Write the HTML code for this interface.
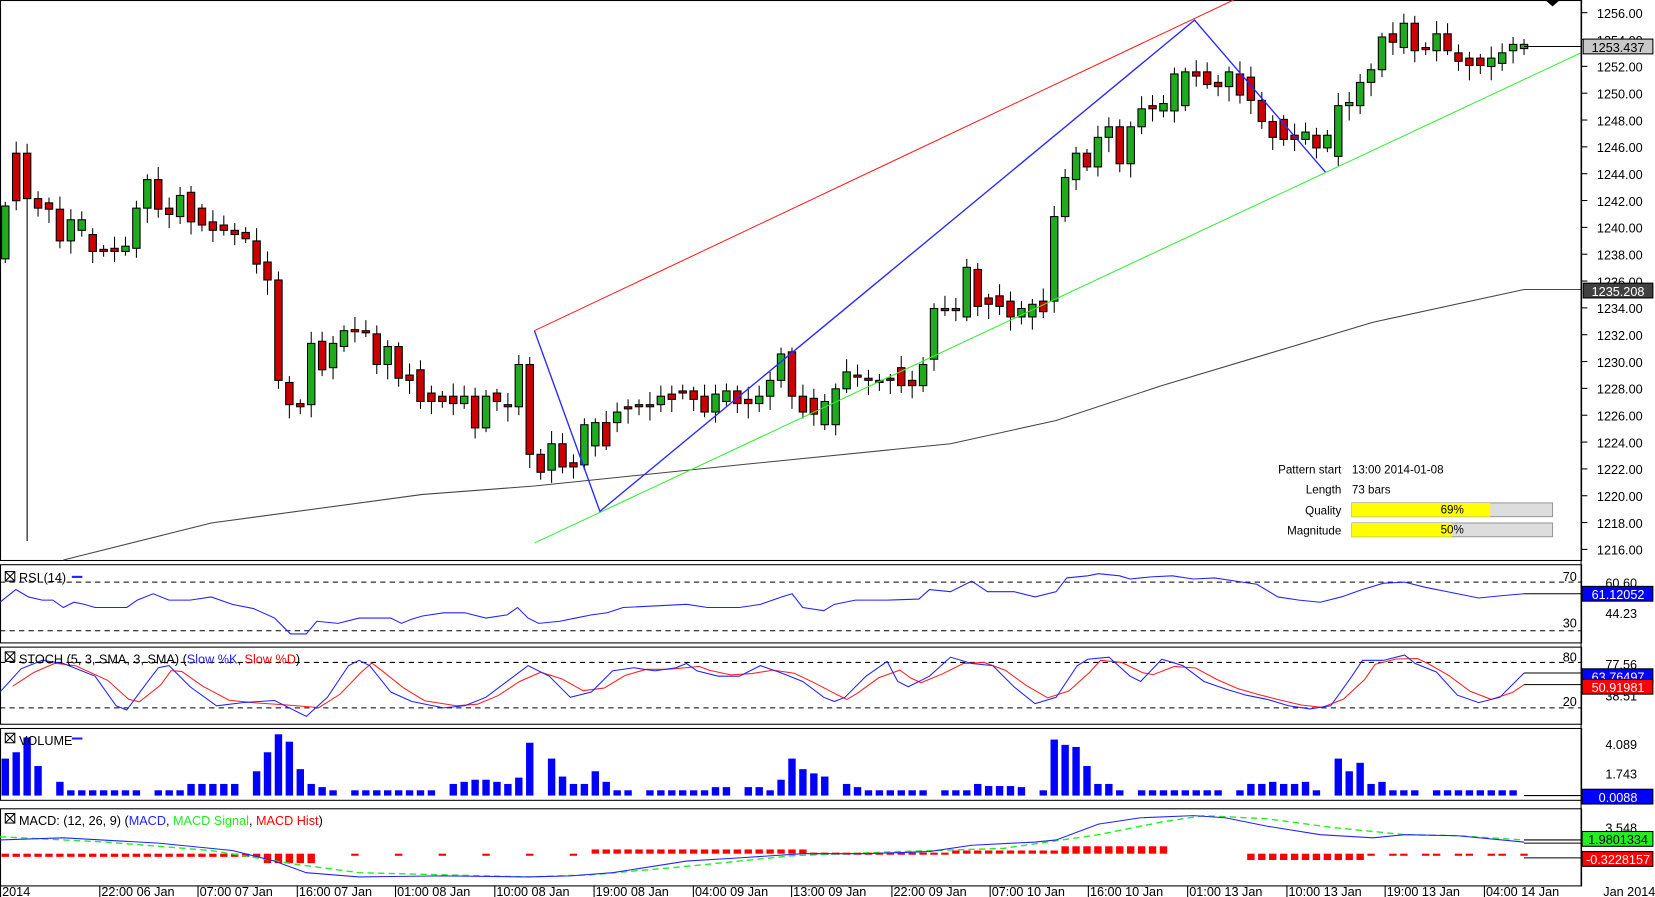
<!DOCTYPE html><html><head><style>body{margin:0;background:#fff}svg{display:block;font-family:"Liberation Sans",sans-serif}</style></head><body>
<svg id="s" width="1655" height="897" viewBox="0 0 1567 849" preserveAspectRatio="none" xmlns="http://www.w3.org/2000/svg"></svg>
<script>
const s=document.getElementById('s');let h='';
const P=(pts)=>pts.map(p=>p.join(',')).join(' ');
const pl=(pts,c,w,d)=>h+=`<polyline points="${P(pts)}" fill="none" stroke="${c}" stroke-width="${w||1}" ${d?'stroke-dasharray="'+d+'"':''}/>`;
const ln=(x1,y1,x2,y2,c,w,d)=>h+=`<line x1="${x1}" y1="${y1}" x2="${x2}" y2="${y2}" stroke="${c}" stroke-width="${w||1}" ${d?'stroke-dasharray="'+d+'"':''}/>`;
const tx=(x,y,t,c,a,sz)=>h+=`<text x="${x}" y="${y}" fill="${c||'#000'}" font-size="${sz||12}" text-anchor="${a||'start'}">${t}</text>`;
const rc=(x,y,w,hh,f,st)=>h+=`<rect x="${x}" y="${y}" width="${w}" height="${hh}" fill="${f}" ${st?'stroke="'+st+'"':''}/>`;
[[0,0,530],[0,534,608],[0,612,685],[0,689,757],[0,765,838]].forEach(p=>{rc(0.5,p[1]+0.5,1497,p[2]-p[1],'none','#000')});
for(let v=1256,i=0;v>=1216;v-=2,i++){let y=12+i*25.4;ln(1497,y,1503,y,'#000');tx(1512,y+5,v.toFixed(2));}
pl([[60,530],[200,495],[400,468],[506,460],[700,440],[900,420],[1000,398],[1100,365],[1200,335],[1300,305],[1443,274],[1497,274]],'#444',1);
const C=[[245,195],[145,190],[145,188],[188,197],[192,198],[198,228],[228,208],[218,208],[222,238],[236,238],[235,238],[238,233],[235,197],[197,170],[170,198],[197,203],[205,185],[182,210],[197,213],[210,218],[213,218],[218,222],[220,226],[228,250],[248,265],[265,360],[362,383],[382,385],[383,325],[323,350],[348,325],[328,313],[312,313],[313,314],[316,345],[345,328],[328,358],[355,360],[350,380],[372,380],[375,380],[375,382],[382,375],[375,405],[405,375],[372,380],[383,385],[385,345],[345,430],[430,447],[445,420],[420,442],[438,442],[440,402],[422,400],[400,422],[400,390],[385,386],[383,384],[383,384],[383,375],[373,378],[370,372],[370,378],[375,390],[390,373],[380,370],[370,382],[378,382],[382,375],[375,360],[360,335],[333,375],[375,390],[377,392],[402,380],[402,368],[368,352],[355,356],[358,359],[360,361],[358,359],[348,365],[360,365],[365,345],[340,292],[292,293],[292,293],[300,253],[255,290],[282,288],[280,290],[285,300],[300,292],[300,288],[285,295],[285,205],[205,168],[170,145],[145,158],[158,130],[130,120],[120,155],[155,120],[120,103],[100,103],[105,98],[105,70],[100,68],[68,72],[68,80],[78,82],[82,68],[70,90],[73,95],[95,115],[115,130],[113,132],[128,132],[132,125],[128,140],[140,128],[148,100],[100,97],[100,78],[78,66],[66,35],[32,40],[45,22],[22,48],[45,46],[48,32],[32,48],[50,58],[55,62],[55,62],[63,55],[60,50],[48,42],[46,42]];
const X=i=>5+i*(1438/(C.length-1));
C.forEach((c,i)=>{let x=X(i),t=Math.min(c[0],c[1]),b=Math.max(c[0],c[1]);if(b-t<2)b=t+2;let g=c[1]<c[0];
let wt=t-4-(i*7%9),wb=b+4+(i*5%11);if(i==2)wb=512;ln(x,wt,x,wb,'#000');rc(x-3.5,t,7,b-t,g?'#1faa1f':'#cc0000','#000');});
ln(506,313,1168,0,'#ff2020');ln(506,514,1497,50,'#33ee33');pl([[506,313],[568,484],[1131,19],[1255,163]],'#2a2aff',1.3);
ln(1443,44,1497,44,'#000');
rc(1499,37,66,14,'#c8c8c8','#000');tx(1532,49,'1253.437','#000','middle');
rc(1499,268,66,14,'#404040','#000');tx(1532,280,'1235.208','#fff','middle');
h+=`<path d="M1463 0 L1477 0 L1470 6Z" fill="#000"/>`;
[['Pattern start',444],['Length',463],['Quality',483],['Magnitude',502]].forEach(a=>tx(1270,a[1]+4,a[0],'#000','end',11));
tx(1280,448,'13:00 2014-01-08','#000','start',11);tx(1280,467,'73 bars','#000','start',11);
rc(1280,476,190,13,'#ddd','#999');rc(1280,476,131,13,'#ffff00');tx(1375,486,'69%','#000','middle',11);
rc(1280,495,190,13,'#ddd','#999');rc(1280,495,95,13,'#ffff00');tx(1375,505,'50%','#000','middle',11);
ln(0,551,1497,551,'#000',1,'5,4');ln(0,597,1497,597,'#000',1,'5,4');
const rsi=[[0,570],[15,558],[27,565],[40,568],[50,568],[60,575],[70,570],[80,572],[90,575],[120,575],[130,568],[145,562],[160,568],[180,568],[200,565],[220,572],[240,576],[260,585],[275,600],[290,600],[300,588],[320,590],[340,585],[370,585],[380,590],[390,586],[400,583],[420,580],[440,580],[460,585],[480,582],[490,575],[500,585],[510,590],[530,588],[545,585],[560,582],[575,580],[590,575],[650,572],[670,575],[700,575],[720,572],[740,565],[750,562],[760,575],[780,578],[790,572],[810,568],[840,568],[870,567],[880,558],[900,560],[920,550],[935,560],[960,560],[980,565],[1000,560],[1010,547],[1030,545],[1040,543],[1060,545],[1070,548],[1090,546],[1110,545],[1130,548],[1150,547],[1170,550],[1190,553],[1210,565],[1230,568],[1250,570],[1270,565],[1290,558],[1310,552],[1330,551],[1350,556],[1370,560],[1400,566],[1420,564],[1443,562]];
pl(rsi,'#2222ff');ln(1443,562,1497,562,'#000');
tx(1493,550,'70','#000','end');tx(1493,594,'30','#000','end');tx(1520,585,'44.23');tx(1520,556,'60.60');
rc(1498,555,67,14,'#0000ff','#000');tx(1532,567,'61.12052','#fff','middle');
h+=`<rect x="5" y="541" width="9" height="9" fill="none" stroke="#000"/><path d="M5 541L14 550M14 541L5 550" stroke="#000"/>`;
tx(18,551,'RSI (14)');ln(68,546,78,546,'#22f',2);
ln(0,627,1497,627,'#000',1,'5,4');ln(0,670,1497,670,'#000',1,'5,4');
const K=[[0,655],[20,633],[40,625],[60,628],[90,640],[110,668],[120,672],[140,645],[150,632],[160,630],[180,650],[205,668],[230,665],[260,663],[290,678],[310,660],[330,630],[340,625],[350,630],[370,655],[390,664],[420,670],[440,668],[460,660],[480,645],[500,630],[520,640],[540,660],[560,655],[580,635],[600,632],[620,635],[640,632],[650,628],[660,635],[680,640],[700,640],[720,630],[740,637],[760,645],[780,660],[790,664],[800,660],[820,640],[840,626],[850,645],[860,650],[880,640],[900,622],[920,628],[940,630],[960,650],[980,666],[1000,660],[1020,630],[1030,624],[1050,622],[1070,640],[1080,645],[1100,624],[1120,630],[1140,645],[1160,652],[1180,658],[1200,662],[1220,668],[1240,671],[1260,668],[1280,640],[1290,625],[1310,625],[1330,620],[1340,628],[1360,636],[1380,658],[1400,665],[1420,660],[1443,637]];
const D=K.map((p,i)=>{let a=K[Math.max(0,i-1)][1],b=p[1],c=K[Math.min(K.length-1,i+1)][1];return [Math.min(1443,p[0]+12),(a+b*2+c)/4]});D[D.length-1]=[1443,648];
pl(D,'#ff2020');pl(K,'#2222ff');ln(1443,637,1497,637,'#000');ln(1443,648,1497,648,'#000');
tx(1493,626,'80','#000','end');tx(1493,668,'20','#000','end');tx(1520,663,'38.51');tx(1520,633,'77.56');
rc(1498,633,67,14,'#0000ff','#000');tx(1532,645,'63.76497','#fff','middle');
rc(1498,643,67,14,'#ff0000','#000');tx(1532,655,'50.91981','#fff','middle');
h+=`<rect x="5" y="617" width="9" height="9" fill="none" stroke="#000"/><path d="M5 617L14 626M14 617L5 626" stroke="#000"/>`;
h+=`<text x="18" y="628" font-size="12">STOCH (5, 3, SMA, 3, SMA) (<tspan fill="#22f">Slow %K</tspan>, <tspan fill="#f00">Slow %D</tspan>)</text>`;
const vt={5:718,15:712,26:698,36:725,46:745,56:740,180:742,190:742,200:742,212:742,222:742,232:742,243:730,253:712,264:695,274:702,284:728,295:742,305:745,430:742,440:740,450:738,460:738,470:740,481:742,491:736,501:703,512:718,522:718,532:735,543:742,553:742,567:730,577:740,680:745,690:745,700:744,711:745,721:745,742:738,752:718,762:728,773:732,783:735,793:740,804:742,814:745,930:742,940:744,950:744,960:744,970:745,1000:700,1011:705,1021:707,1031:725,1042:742,1052:742,1180:742,1190:742,1200:742,1210:740,1220:742,1230:742,1240:740,1257:718,1268:718,1278:730,1288:722,1298:742,1309:740};
C.forEach((c,i)=>{let x=X(i),top=748;for(const k in vt)if(Math.abs(k-x)<5)top=vt[k];if(i%9==4)return;rc(x-3.5,top,7,753-top,'#0000ff');});
ln(1443,753,1497,753,'#000');tx(1520,709,'4.089');tx(1520,737,'1.743');
rc(1498,747,67,14,'#0000ff','#000');tx(1532,759,'0.0088','#fff','middle');
h+=`<rect x="5" y="694" width="9" height="9" fill="none" stroke="#000"/><path d="M5 694L14 703M14 694L5 703" stroke="#000"/>`;
tx(18,705,'VOLUME');ln(68,699,78,699,'#22f',2);
C.forEach((c,i)=>{let x=X(i),v=0;
if(x<250)v=3;else if(x<300)v=9;else if(x<560)v=(i%4==0)?2:0;else if(x<770)v=-4;else if(x<900)v=-1;else if(x<1000)v=-3;else if(x<1110)v=-7;else if(x<1180)v=0;else if(x<1290)v=6;else v=(i%3?2:0);
if(v)rc(x-3.5,Math.min(808,808+v),7,Math.max(2,Math.abs(v)),'#ff0000');});
const M=[[0,795],[60,793],[150,798],[220,805],[260,815],[290,826],[340,830],[420,829],[500,830],[540,829],[580,826],[650,815],[700,812],[760,808],[820,808],[880,806],[920,800],[980,797],[1000,795],[1040,780],[1080,774],[1130,772],[1160,774],[1200,782],[1250,790],[1300,793],[1330,790],[1380,791],[1443,797]];
const S=[[0,792],[100,797],[200,805],[280,818],[340,826],[420,828],[500,830],[560,828],[650,820],[750,810],[850,806],[950,803],[1040,790],[1100,778],[1140,772],[1200,775],[1260,783],[1330,790],[1380,791],[1443,795]];
pl(S,'#22ee22',1.3,'6,4');pl(M,'#2222ff');ln(1443,795,1497,795,'#000');ln(1443,798,1497,798,'#000');ln(1443,812,1497,812,'#000');
tx(1520,788,'3.548');
rc(1498,787,67,14,'#22ee22','#000');tx(1532,799,'1.9801334','#000','middle');
rc(1498,806,67,14,'#ff0000','#000');tx(1532,818,'-0.3228157','#fff','middle');
h+=`<rect x="5" y="770" width="9" height="9" fill="none" stroke="#000"/><path d="M5 770L14 779M14 770L5 779" stroke="#000"/>`;
h+=`<text x="18" y="781" font-size="12">MACD: (12, 26, 9) (<tspan fill="#22f">MACD</tspan>, <tspan fill="#2e2">MACD Signal</tspan>, <tspan fill="#f00">MACD Hist</tspan>)</text>`;
ln(1497,0,1497,838,'#000');
[[0,'2014'],[94,'22:00 06 Jan'],[187,'07:00 07 Jan'],[281,'16:00 07 Jan'],[374,'01:00 08 Jan'],[468,'10:00 08 Jan'],[562,'19:00 08 Jan'],[656,'04:00 09 Jan'],[749,'13:00 09 Jan'],[844,'22:00 09 Jan'],[937,'07:00 10 Jan'],[1030,'16:00 10 Jan'],[1124,'01:00 13 Jan'],[1218,'10:00 13 Jan'],[1311,'19:00 13 Jan'],[1405,'04:00 14 Jan']].forEach(a=>{ln(a[0]+0.5,838,a[0]+0.5,850,'#000');tx(a[0]+2,848,a[1]);});
tx(1518,848,'Jan 2014');
s.innerHTML=h;
</script></body></html>
